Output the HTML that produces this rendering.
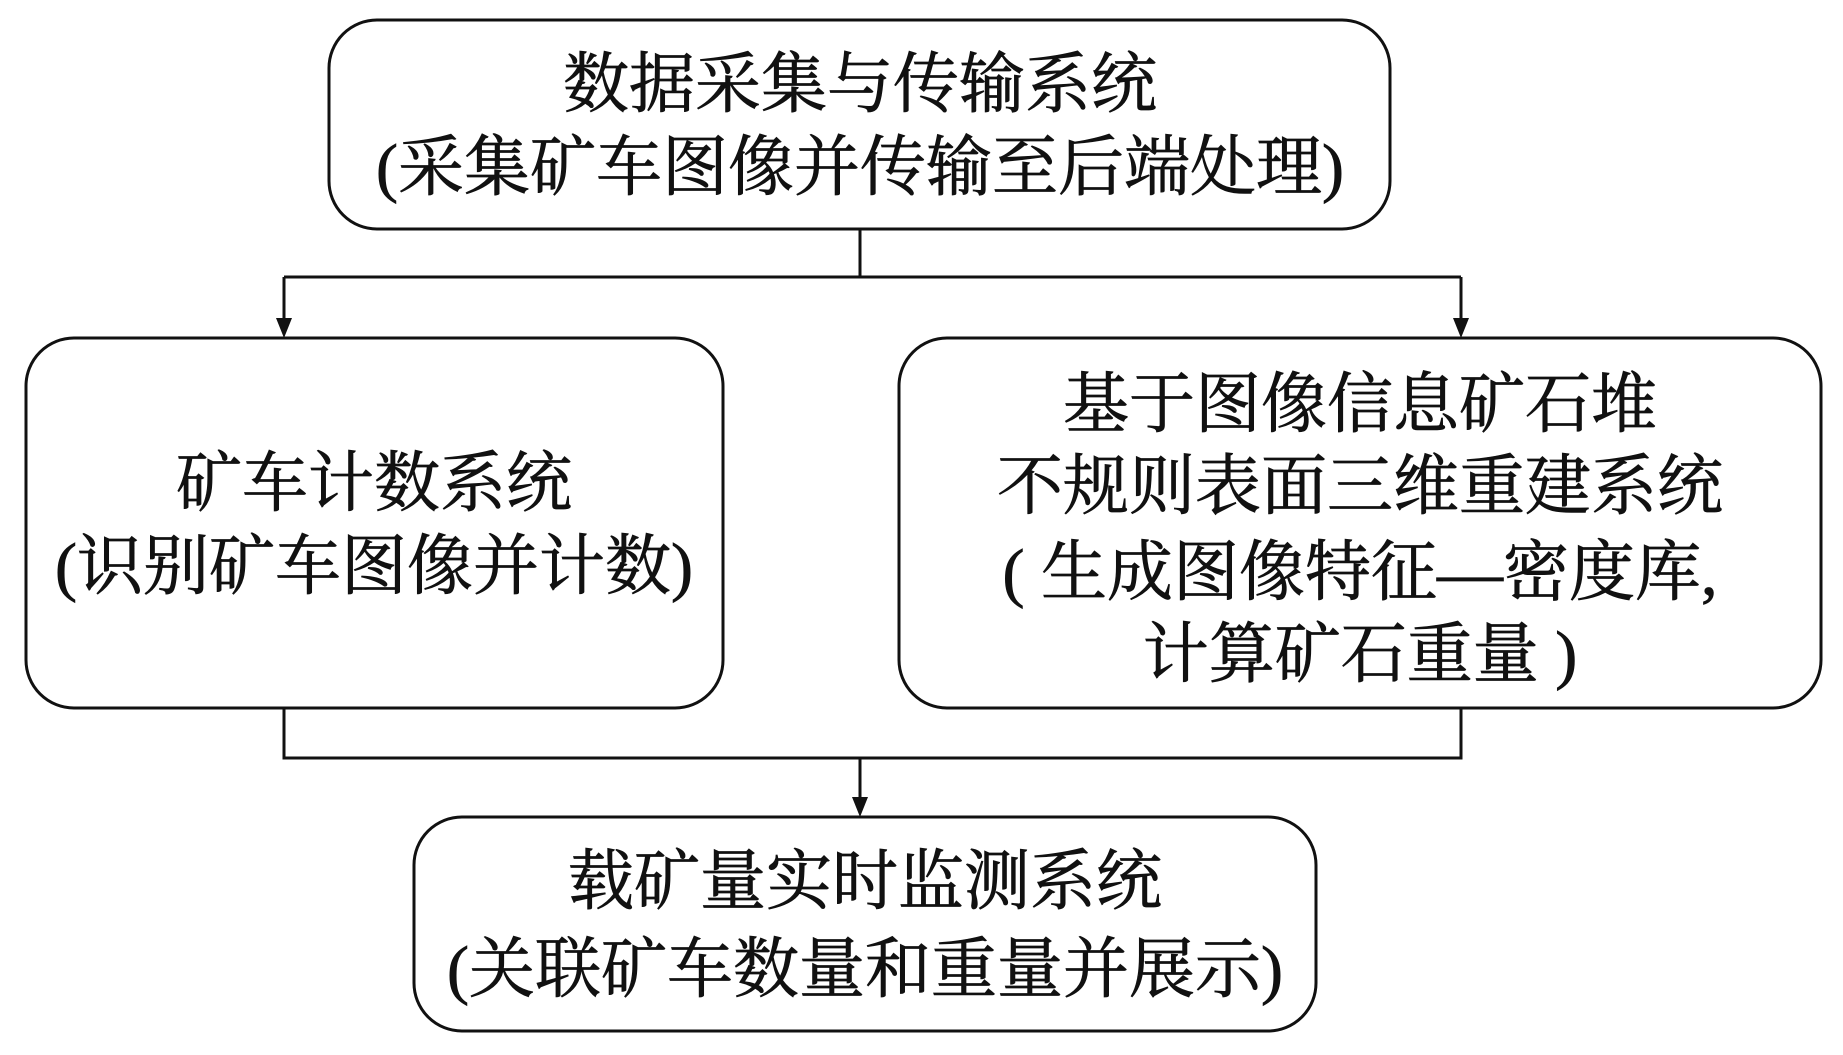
<!DOCTYPE html>
<html><head><meta charset="utf-8"><style>
html,body{margin:0;padding:0;background:#fff;}
svg{display:block;}
text{font-family:"Liberation Serif","Noto Serif CJK SC",serif;font-size:66px;fill:#111;stroke:#111;stroke-width:0.8px;}
</style></head><body>
<svg width="1843" height="1055" viewBox="0 0 1843 1055" xmlns="http://www.w3.org/2000/svg">
<g fill="none" stroke="#111" stroke-width="3">
<rect x="329" y="20" width="1061" height="209" rx="48"/>
<rect x="26" y="338" width="697" height="370" rx="48"/>
<rect x="899" y="338" width="922" height="370" rx="48"/>
<rect x="414" y="817" width="902" height="214" rx="48"/>
<path d="M860 229 V277 M284 277 H1461 M284 277 V322 M1461 277 V322"/>
<path d="M284 708 V758 H1461 V708 M860 758 V801"/>
</g>
<g fill="#111">
<polygon points="276,318 292,318 284,338"/>
<polygon points="1453,318 1469,318 1461,338"/>
<polygon points="852,797 868,797 860,817"/>
</g>
<g text-anchor="middle" dominant-baseline="central">
<text x="860" y="85">数据采集与传输系统</text>
<text x="860" y="168">(采集矿车图像并传输至后端处理)</text>
<text x="374" y="484">矿车计数系统</text>
<text x="374" y="567">(识别矿车图像并计数)</text>
<text x="1360" y="405">基于图像信息矿石堆</text>
<text x="1360" y="487">不规则表面三维重建系统</text>
<text x="1360" y="573">( 生成图像特征—密度库,</text>
<text x="1360" y="655">计算矿石重量 )</text>
<text x="865" y="882">载矿量实时监测系统</text>
<text x="865" y="970">(关联矿车数量和重量并展示)</text>
</g>
</svg>
</body></html>
